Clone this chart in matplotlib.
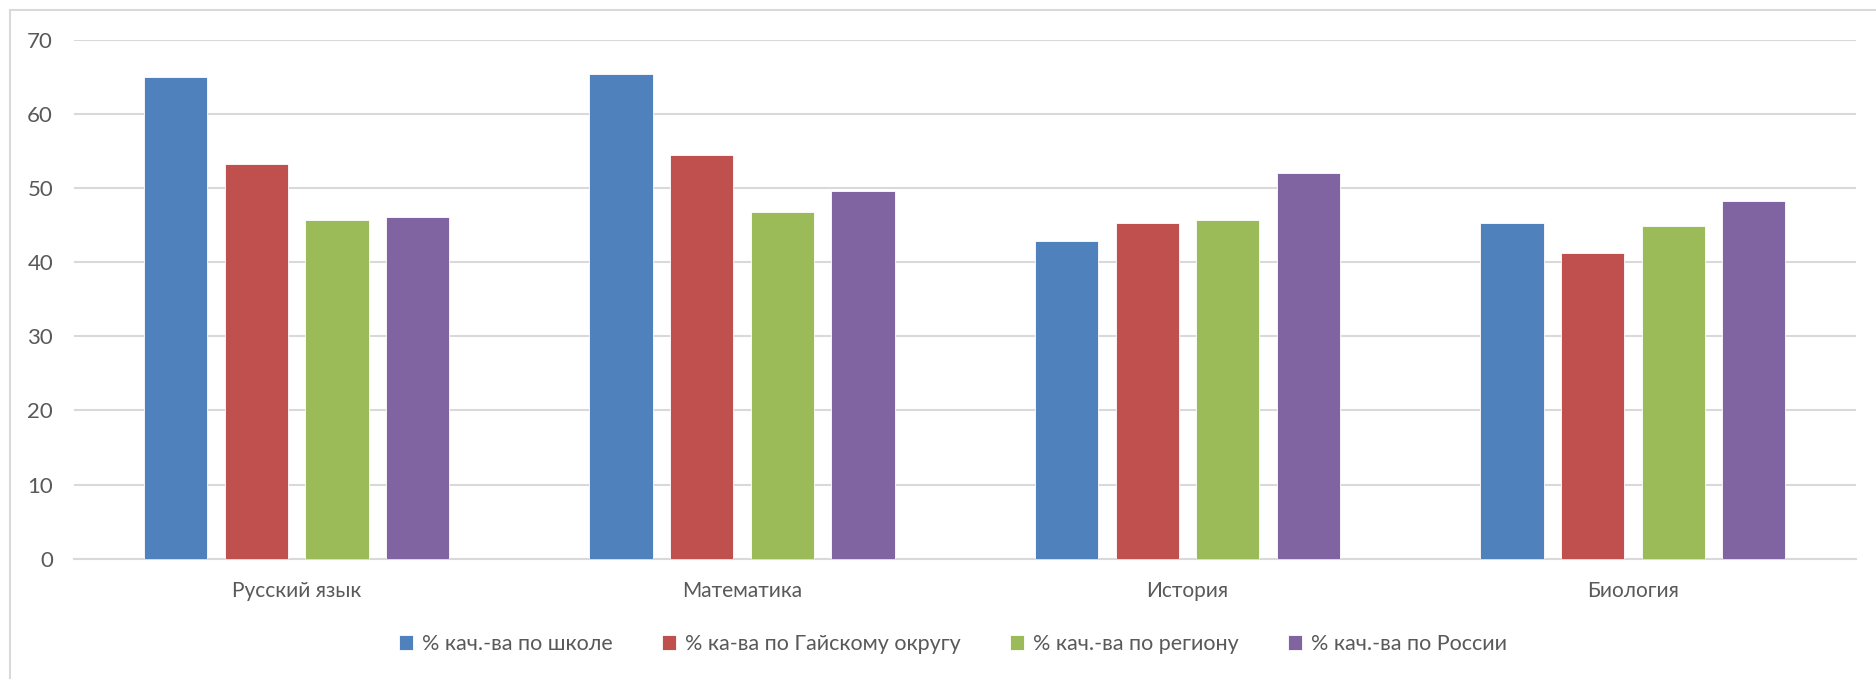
import numpy as np
import matplotlib.pyplot as plt
from matplotlib.patches import Rectangle

plt.rcParams['font.family'] = ['Lato', 'DejaVu Sans']

subjects = ['Русский язык', 'Математика', 'История', 'Биология']
series_names = ['% кач.-ва по школе', '% ка-ва по Гайскому округу',
                '% кач.-ва по региону', '% кач.-ва по России']
school = [65.0, 65.4, 42.9, 45.2]
district = [53.2, 54.5, 45.2, 41.2]
region = [45.7, 46.7, 45.7, 44.8]
russia = [46.1, 49.6, 52.0, 48.2]
colors = ['#4F81BD', '#C0504D', '#9BBB59', '#8064A2']

fig = plt.figure(figsize=(18.76, 6.79), dpi=100)
ax = fig.add_axes([0.0394, 0.177, 0.9497, 0.7648])

# рамка вокруг всей диаграммы
fig.patches.append(Rectangle((10 / 1876, -0.01), 1.02, 1 - 10 / 679 + 0.01,
                             transform=fig.transFigure, fill=False,
                             edgecolor='#d9d9d9', linewidth=1.5))

x = np.arange(len(subjects))
step = 0.181
width = 0.142
for j, vals in enumerate([school, district, region, russia]):
    ax.bar(x + (j - 1.5) * step, vals, width, color=colors[j],
           label=series_names[j], zorder=3, edgecolor='white', linewidth=0.6)

ax.set_xlim(-0.5, 3.5)
ax.set_ylim(0, 70)
ax.set_yticks(range(0, 71, 10))
ax.yaxis.grid(True, color='#d9d9d9', linewidth=1.5, zorder=0)
ax.set_xticks(x)
ax.set_xticklabels(subjects)
ax.tick_params(axis='both', length=0, colors='#595959')
ax.tick_params(axis='y', pad=15, labelsize=16)
ax.tick_params(axis='x', pad=16, labelsize=15)
for s in ['left', 'right', 'top']:
    ax.spines[s].set_visible(False)
ax.spines['bottom'].set_color('#d9d9d9')
ax.spines['bottom'].set_linewidth(1.5)

fig.legend(loc='center', bbox_to_anchor=(0.508, 1 - 644 / 679), ncol=4,
           frameon=False, fontsize=15.5, handlelength=0.65, handleheight=0.65,
           handletextpad=0.4, columnspacing=2.3, labelcolor='#595959')

fig.savefig('out.png', dpi=100)
